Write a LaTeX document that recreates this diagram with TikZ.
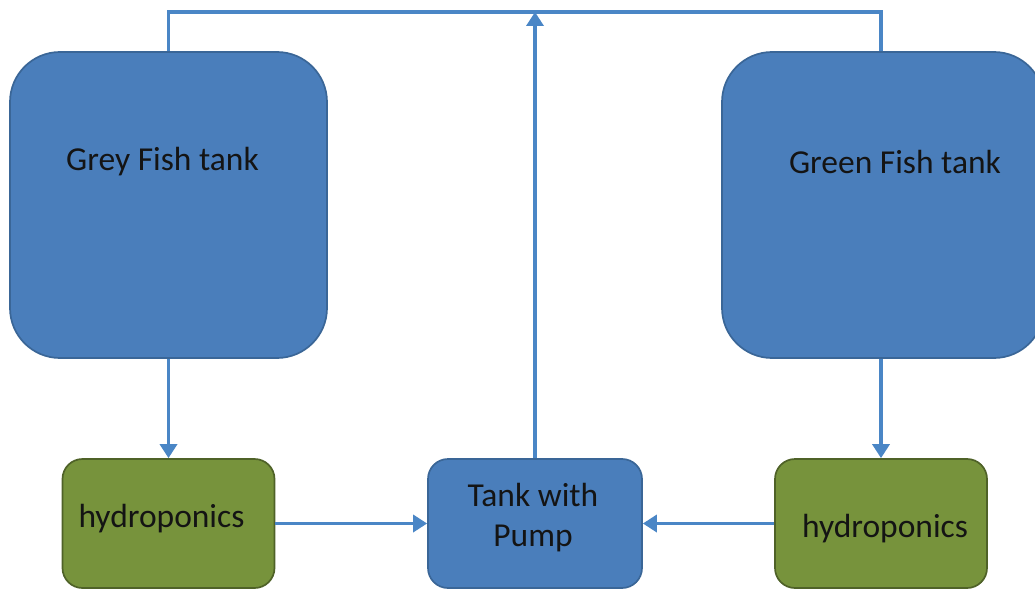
\documentclass[tikz,border=0pt]{standalone}
\usepackage{fontspec}
\setmainfont{Carlito}
\usetikzlibrary{arrows.meta}
\definecolor{tankblue}{HTML}{4A7EBB}
\definecolor{tankedge}{HTML}{3A6697}
\definecolor{plantgreen}{HTML}{77933C}
\definecolor{plantedge}{HTML}{4F6228}
\definecolor{pipe}{HTML}{4A86C6}
\definecolor{ink}{HTML}{141414}
\begin{document}
\begin{tikzpicture}[x=1pt,y=1pt,
  box/.style={draw, line width=1.7pt},
  fishtank/.style={box, fill=tankblue, draw=tankedge, rounded corners=50pt,
    minimum width=317pt, minimum height=306pt},
  growbed/.style={box, fill=plantgreen, draw=plantedge, rounded corners=20pt,
    minimum width=212pt, minimum height=129pt},
  sump/.style={box, fill=tankblue, draw=tankedge, rounded corners=20pt,
    minimum width=214pt, minimum height=129pt},
  flow/.style={draw=pipe, line width=3.4pt},
  flowarrow/.style={flow, -{Triangle[width=17pt,length=14pt]}},
  caption/.style={font=\fontsize{33.5}{40}\selectfont, text=ink, align=center}]
\useasboundingbox (0,0) rectangle (1035,590);
\begin{scope}
\clip (0,0) rectangle (1035,590);

% fish tanks
\node[fishtank, label={[caption, xshift=-6pt, yshift=43pt]center:Grey Fish tank}] (grey) at (168.5,385) {};
\node[fishtank, minimum width=322pt, label={[caption, xshift=12pt, yshift=43pt]center:Green Fish tank}] (green) at (883,385) {};

% grow beds and sump
\node[growbed, label={[caption, xshift=-7pt, yshift=5pt]center:hydroponics}] (lhydro) at (168.5,66.5) {};
\node[growbed, label={[caption, xshift=4pt, yshift=-5pt]center:hydroponics}] (rhydro) at (881,66.5) {};
\node[sump, label={[caption, xshift=-2pt, yshift=6pt]center:Tank with\\Pump}] (pump) at (535,66.5) {};

% return line along the top
\coordinate (top) at (535,578);
\draw[flow, line join=miter] (grey.north) -- (grey.north |- top) -- (rhydro.north |- top) -- (rhydro.north |- green.north);
\draw[flowarrow] (pump.north) -- (top);

% tanks drain into the grow beds
\draw[flowarrow] (grey.south) -- (lhydro.north);
\draw[flowarrow] (rhydro.north |- green.south) -- (rhydro.north);

% grow beds drain into the sump
\draw[flowarrow] (lhydro.east) -- (pump.west);
\draw[flowarrow] (rhydro.west) -- (pump.east);
\end{scope}
\end{tikzpicture}
\end{document}
